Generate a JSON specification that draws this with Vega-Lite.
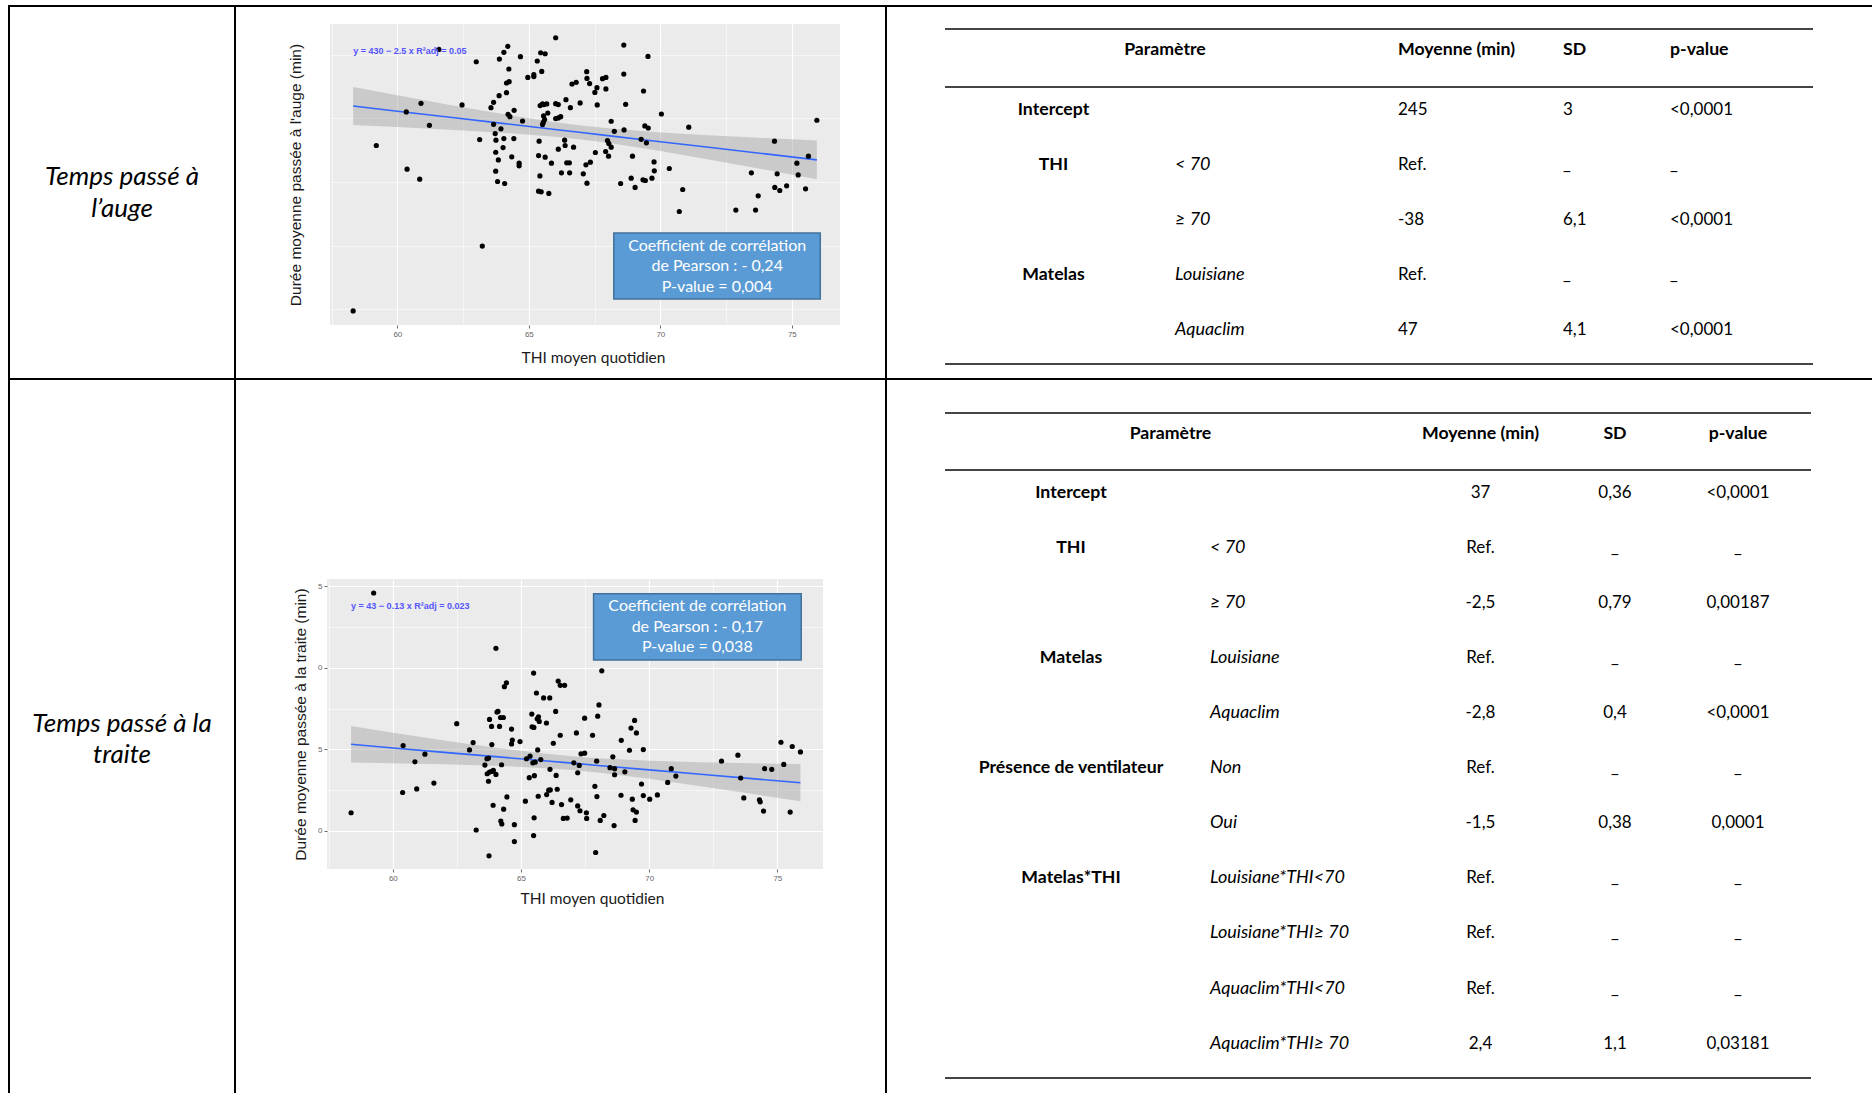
{
"$schema": "https://vega.github.io/schema/vega-lite/v6.json",
"padding": {"left": 8, "top": 5, "right": 0, "bottom": 0},
"background": "#ffffff",
"spacing": 0,
"bounds": "full",
"config": {"view": {"stroke": null}, "concat": {"spacing": 0}, "font": "Lato", "text": {"font": "Lato", "color": "#000000"}},
"datasets": {
"auge": [{"thi":58.32,"duree":123.6},{"thi":59.2,"duree":253.7},{"thi":60.34,"duree":280.1},{"thi":60.37,"duree":235.1},{"thi":60.9,"duree":286.9},{"thi":60.85,"duree":227.2},{"thi":61.22,"duree":269.6},{"thi":61.58,"duree":329.3},{"thi":62.46,"duree":285.6},{"thi":63.0,"duree":319.6},{"thi":63.13,"duree":258.4},{"thi":63.23,"duree":174.6},{"thi":63.56,"duree":283.5},{"thi":63.66,"duree":287.7},{"thi":63.66,"duree":270.4},{"thi":63.72,"duree":263.1},{"thi":63.75,"duree":257.9},{"thi":63.74,"duree":248.4},{"thi":63.74,"duree":233.5},{"thi":63.81,"duree":225.4},{"thi":63.84,"duree":242.4},{"thi":63.87,"duree":292.9},{"thi":63.88,"duree":321.7},{"thi":63.94,"duree":266.8},{"thi":64.02,"duree":252.1},{"thi":64.05,"duree":259.2},{"thi":64.08,"duree":223.8},{"thi":64.05,"duree":327.0},{"thi":64.2,"duree":331.7},{"thi":64.15,"duree":295.3},{"thi":64.15,"duree":302.9},{"thi":64.24,"duree":313.9},{"thi":64.25,"duree":303.9},{"thi":64.21,"duree":278.3},{"thi":64.28,"duree":276.4},{"thi":64.35,"duree":244.8},{"thi":64.43,"duree":259.2},{"thi":64.44,"duree":281.4},{"thi":64.63,"duree":239.8},{"thi":64.63,"duree":237.7},{"thi":64.68,"duree":323.6},{"thi":64.76,"duree":273.0},{"thi":64.96,"duree":307.3},{"thi":65.19,"duree":307.9},{"thi":65.19,"duree":309.4},{"thi":65.32,"duree":320.2},{"thi":65.37,"duree":245.8},{"thi":65.39,"duree":257.1},{"thi":65.42,"duree":229.8},{"thi":65.37,"duree":217.8},{"thi":65.47,"duree":217.3},{"thi":65.45,"duree":326.7},{"thi":65.49,"duree":312.0},{"thi":65.62,"duree":325.9},{"thi":65.43,"duree":285.1},{"thi":65.52,"duree":286.4},{"thi":65.57,"duree":285.9},{"thi":65.56,"duree":277.0},{"thi":65.62,"duree":244.5},{"thi":65.52,"duree":270.2},{"thi":65.55,"duree":272.0},{"thi":65.6,"duree":274.1},{"thi":65.68,"duree":286.4},{"thi":65.72,"duree":279.3},{"thi":65.76,"duree":216.0},{"thi":65.86,"duree":239.8},{"thi":66.02,"duree":338.5},{"thi":66.02,"duree":286.6},{"thi":66.12,"duree":285.9},{"thi":66.02,"duree":274.9},{"thi":66.12,"duree":275.4},{"thi":66.21,"duree":276.4},{"thi":66.12,"duree":250.8},{"thi":66.24,"duree":232.2},{"thi":66.36,"duree":257.9},{"thi":66.38,"duree":253.7},{"thi":66.41,"duree":289.8},{"thi":66.44,"duree":240.1},{"thi":66.54,"duree":240.1},{"thi":66.55,"duree":232.2},{"thi":66.58,"duree":283.5},{"thi":66.64,"duree":302.1},{"thi":66.7,"duree":252.4},{"thi":66.8,"duree":303.4},{"thi":66.95,"duree":287.2},{"thi":67.07,"duree":231.4},{"thi":67.17,"duree":238.5},{"thi":67.21,"duree":224.1},{"thi":67.2,"duree":311.8},{"thi":67.21,"duree":306.5},{"thi":67.31,"duree":302.4},{"thi":67.34,"duree":240.6},{"thi":67.51,"duree":295.5},{"thi":67.53,"duree":248.2},{"thi":67.59,"duree":299.2},{"thi":67.6,"duree":285.6},{"thi":67.8,"duree":306.3},{"thi":67.93,"duree":307.3},{"thi":67.93,"duree":298.2},{"thi":67.92,"duree":249.0},{"thi":67.99,"duree":257.6},{"thi":68.03,"duree":245.3},{"thi":68.04,"duree":255.2},{"thi":68.13,"duree":272.8},{"thi":68.13,"duree":252.4},{"thi":68.25,"duree":264.9},{"thi":68.49,"duree":223.8},{"thi":68.61,"duree":332.7},{"thi":68.61,"duree":309.9},{"thi":68.62,"duree":266.0},{"thi":68.68,"duree":286.1},{"thi":68.89,"duree":228.0},{"thi":68.94,"duree":245.3},{"thi":69.04,"duree":220.7},{"thi":69.27,"duree":258.6},{"thi":69.36,"duree":296.6},{"thi":69.34,"duree":226.7},{"thi":69.41,"duree":269.1},{"thi":69.43,"duree":226.2},{"thi":69.47,"duree":255.8},{"thi":69.53,"duree":323.8},{"thi":69.54,"duree":267.5},{"thi":69.68,"duree":228.0},{"thi":69.76,"duree":240.8},{"thi":69.77,"duree":233.8},{"thi":70.04,"duree":278.5},{"thi":70.34,"duree":235.6},{"thi":70.72,"duree":201.8},{"thi":70.85,"duree":219.1},{"thi":71.08,"duree":268.1},{"thi":72.87,"duree":202.9},{"thi":73.46,"duree":232.2},{"thi":73.62,"duree":202.9},{"thi":73.72,"duree":214.1},{"thi":74.34,"duree":257.1},{"thi":74.35,"duree":220.7},{"thi":74.44,"duree":231.4},{"thi":74.54,"duree":218.3},{"thi":74.8,"duree":222.0},{"thi":75.19,"duree":239.8},{"thi":75.24,"duree":230.6},{"thi":75.52,"duree":219.6},{"thi":75.63,"duree":245.3},{"thi":75.95,"duree":273.6}],
"auge_fit": [{"thi":58.32,"fit":284.8,"lo":269.8,"hi":299.8},{"thi":60,"fit":280.7,"lo":268.2,"hi":293.2},{"thi":62,"fit":275.9,"lo":266.2,"hi":285.6},{"thi":64,"fit":271.1,"lo":263.8,"hi":278.4},{"thi":66,"fit":266.3,"lo":260.6,"hi":272.0},{"thi":67,"fit":263.9,"lo":258.4,"hi":269.4},{"thi":68,"fit":261.5,"lo":255.8,"hi":267.2},{"thi":70,"fit":256.7,"lo":249.4,"hi":264.0},{"thi":72,"fit":251.9,"lo":242.2,"hi":261.6},{"thi":74,"fit":247.1,"lo":234.6,"hi":259.6},{"thi":75.95,"fit":242.4,"lo":227.2,"hi":257.7}],
"traite": [{"thi":58.37,"duree":31.12},{"thi":59.25,"duree":44.59},{"thi":60.4,"duree":35.24},{"thi":60.38,"duree":32.36},{"thi":60.86,"duree":34.24},{"thi":60.93,"duree":32.58},{"thi":61.25,"duree":34.71},{"thi":61.6,"duree":32.94},{"thi":62.49,"duree":36.58},{"thi":62.99,"duree":34.97},{"thi":63.13,"duree":35.42},{"thi":63.25,"duree":30.06},{"thi":63.59,"duree":34.04},{"thi":63.67,"duree":34.43},{"thi":63.73,"duree":34.47},{"thi":63.77,"duree":36.84},{"thi":63.73,"duree":33.05},{"thi":63.68,"duree":33.51},{"thi":63.77,"duree":33.61},{"thi":63.85,"duree":36.41},{"thi":63.86,"duree":35.3},{"thi":63.86,"duree":33.65},{"thi":63.92,"duree":33.72},{"thi":63.75,"duree":28.48},{"thi":63.91,"duree":31.58},{"thi":64.02,"duree":41.2},{"thi":64.02,"duree":33.47},{"thi":64.06,"duree":37.29},{"thi":64.1,"duree":37.33},{"thi":64.16,"duree":36.41},{"thi":64.2,"duree":36.96},{"thi":64.24,"duree":34.06},{"thi":64.31,"duree":36.96},{"thi":64.21,"duree":30.61},{"thi":64.25,"duree":30.43},{"thi":64.32,"duree":31.34},{"thi":64.35,"duree":38.85},{"thi":64.43,"duree":39.09},{"thi":64.45,"duree":32.09},{"thi":64.63,"duree":36.25},{"thi":64.63,"duree":35.34},{"thi":64.66,"duree":35.58},{"thi":64.74,"duree":30.39},{"thi":64.74,"duree":29.35},{"thi":64.96,"duree":35.48},{"thi":65.17,"duree":31.83},{"thi":65.21,"duree":34.43},{"thi":65.32,"duree":33.27},{"thi":65.35,"duree":34.59},{"thi":65.42,"duree":37.17},{"thi":65.43,"duree":36.39},{"thi":65.46,"duree":34.18},{"thi":65.49,"duree":39.68},{"thi":65.5,"duree":36.35},{"thi":65.52,"duree":33.39},{"thi":65.49,"duree":29.72},{"thi":65.51,"duree":30.81},{"thi":65.55,"duree":34.22},{"thi":65.6,"duree":38.46},{"thi":65.63,"duree":36.88},{"thi":65.65,"duree":34.97},{"thi":65.67,"duree":32.13},{"thi":65.68,"duree":37.0},{"thi":65.71,"duree":36.72},{"thi":65.77,"duree":34.38},{"thi":65.88,"duree":38.16},{"thi":65.99,"duree":36.62},{"thi":66.0,"duree":32.23},{"thi":66.08,"duree":32.5},{"thi":66.12,"duree":38.16},{"thi":66.13,"duree":33.78},{"thi":66.14,"duree":32.52},{"thi":66.21,"duree":31.75},{"thi":66.26,"duree":35.38},{"thi":66.35,"duree":37.33},{"thi":66.37,"duree":33.41},{"thi":66.41,"duree":32.56},{"thi":66.45,"duree":39.19},{"thi":66.53,"duree":38.93},{"thi":66.53,"duree":35.87},{"thi":66.58,"duree":31.62},{"thi":66.65,"duree":30.77},{"thi":66.7,"duree":38.93},{"thi":66.8,"duree":30.79},{"thi":66.94,"duree":31.91},{"thi":67.06,"duree":34.18},{"thi":67.16,"duree":36.01},{"thi":67.21,"duree":31.54},{"thi":67.21,"duree":33.57},{"thi":67.27,"duree":34.02},{"thi":67.3,"duree":31.24},{"thi":67.34,"duree":34.73},{"thi":67.48,"duree":34.77},{"thi":67.48,"duree":36.92},{"thi":67.55,"duree":31.12},{"thi":67.56,"duree":30.77},{"thi":67.79,"duree":35.87},{"thi":67.88,"duree":32.74},{"thi":67.91,"duree":28.68},{"thi":67.95,"duree":34.28},{"thi":67.96,"duree":32.11},{"thi":67.99,"duree":37.04},{"thi":68.04,"duree":37.73},{"thi":68.09,"duree":30.65},{"thi":68.15,"duree":39.82},{"thi":68.23,"duree":30.95},{"thi":68.47,"duree":33.88},{"thi":68.58,"duree":34.55},{"thi":68.65,"duree":33.82},{"thi":68.65,"duree":33.45},{"thi":68.63,"duree":30.33},{"thi":68.91,"duree":35.56},{"thi":68.9,"duree":32.19},{"thi":69.05,"duree":33.63},{"thi":69.23,"duree":34.95},{"thi":69.29,"duree":36.31},{"thi":69.34,"duree":31.95},{"thi":69.37,"duree":31.3},{"thi":69.43,"duree":36.78},{"thi":69.45,"duree":30.65},{"thi":69.5,"duree":36.01},{"thi":69.5,"duree":31.16},{"thi":69.7,"duree":32.88},{"thi":69.77,"duree":34.99},{"thi":69.77,"duree":32.17},{"thi":70.02,"duree":31.95},{"thi":70.32,"duree":32.21},{"thi":70.72,"duree":32.98},{"thi":70.86,"duree":33.82},{"thi":71.04,"duree":33.37},{"thi":72.82,"duree":34.28},{"thi":73.46,"duree":34.65},{"thi":73.57,"duree":33.25},{"thi":73.69,"duree":32.03},{"thi":74.3,"duree":31.91},{"thi":74.33,"duree":31.79},{"thi":74.46,"duree":31.22},{"thi":74.5,"duree":33.82},{"thi":74.78,"duree":33.78},{"thi":75.14,"duree":35.44},{"thi":75.25,"duree":34.08},{"thi":75.5,"duree":31.16},{"thi":75.58,"duree":35.18},{"thi":75.9,"duree":34.85}],
"traite_fit": [{"thi":58.37,"fit":35.32,"lo":34.2,"hi":36.44},{"thi":60,"fit":35.09,"lo":34.16,"hi":36.03},{"thi":62,"fit":34.82,"lo":34.09,"hi":35.55},{"thi":64,"fit":34.56,"lo":34.0,"hi":35.11},{"thi":66,"fit":34.29,"lo":33.85,"hi":34.73},{"thi":67,"fit":34.16,"lo":33.74,"hi":34.58},{"thi":68,"fit":34.02,"lo":33.58,"hi":34.46},{"thi":70,"fit":33.75,"lo":33.2,"hi":34.3},{"thi":72,"fit":33.48,"lo":32.75,"hi":34.21},{"thi":74,"fit":33.21,"lo":32.28,"hi":34.15},{"thi":75.9,"fit":32.96,"lo":31.82,"hi":34.1}],
"t1": [{"r":1,"g":"Intercept","l":"","m":"245","s":"3","p":"<0,0001"},{"r":2,"g":"THI","l":"< 70","m":"Ref.","s":"_","p":"_"},{"r":3,"g":"","l":"≥ 70","m":"-38","s":"6,1","p":"<0,0001"},{"r":4,"g":"Matelas","l":"Louisiane","m":"Ref.","s":"_","p":"_"},{"r":5,"g":"","l":"Aquaclim","m":"47","s":"4,1","p":"<0,0001"}],
"t2": [{"r":1,"g":"Intercept","l":"","m":"37","s":"0,36","p":"<0,0001"},{"r":2,"g":"THI","l":"< 70","m":"Ref.","s":"_","p":"_"},{"r":3,"g":"","l":"≥ 70","m":"-2,5","s":"0,79","p":"0,00187"},{"r":4,"g":"Matelas","l":"Louisiane","m":"Ref.","s":"_","p":"_"},{"r":5,"g":"","l":"Aquaclim","m":"-2,8","s":"0,4","p":"<0,0001"},{"r":6,"g":"Présence de ventilateur","l":"Non","m":"Ref.","s":"_","p":"_"},{"r":7,"g":"","l":"Oui","m":"-1,5","s":"0,38","p":"0,0001"},{"r":8,"g":"Matelas*THI","l":"Louisiane*THI<70","m":"Ref.","s":"_","p":"_"},{"r":9,"g":"","l":"Louisiane*THI≥ 70","m":"Ref.","s":"_","p":"_"},{"r":10,"g":"","l":"Aquaclim*THI<70","m":"Ref.","s":"_","p":"_"},{"r":11,"g":"","l":"Aquaclim*THI≥ 70","m":"2,4","s":"1,1","p":"0,03181"}]
},
"vconcat": [
{"width": 1864, "height": 2, "data": {"values": []}, "mark": "point", "view": {"fill": "#000000"}},
{"hconcat": [
  {"width": 2, "height": 371, "data": {"values": []}, "mark": "point", "view": {"fill": "#000000"}},
  {"width": 224, "height": 371, "data": {"values": [{"k": "a", "lab": "Temps passé à\nl’auge"}]}, "mark": {"type": "text", "fontSize": 26, "fontStyle": "italic", "lineBreak": "\n", "lineHeight": 32, "align": "center", "baseline": "middle"}, "encoding": {"y": {"field": "k", "type": "nominal", "axis": null, "bandPosition": 0.457, "scale": {"type": "band", "paddingInner": 0, "paddingOuter": 0}}, "text": {"field": "lab"}}},
  {"width": 2, "height": 371, "data": {"values": []}, "mark": "point", "view": {"fill": "#000000"}},
  {"vconcat": [
    {"width": 649, "height": 17, "data": {"values": []}, "mark": "point"},
    {"hconcat": [
      {"width": 94, "height": 354, "data": {"values": []}, "mark": "point"},
      {"width": 510, "height": 301, "view": {"fill": "#EBEBEB", "stroke": null},
       "layer": [
        {"data": {"name": "auge_fit"}, "mark": {"type": "area", "color": "#999999", "opacity": 0.4},
         "encoding": {
          "x": {"field": "thi", "type": "quantitative", "scale": {"domain": [57.44, 76.83], "nice": false, "zero": false},
                "axis": {"title": "THI moyen quotidien", "titleX": 263, "values": [57.5, 60, 62.5, 65, 67.5, 70, 72.5, 75], "domain": false, "grid": true, "gridColor": "#ffffff", "gridOpacity": 1, "gridWidth": {"condition": {"test": "datum.value % 5 === 0", "value": 1.1}, "value": 0.55}, "ticks": true, "tickSize": 3, "tickColor": "#444444", "tickWidth": 0.8, "tickOpacity": {"condition": {"test": "datum.value % 5 === 0", "value": 1}, "value": 0}, "labelExpr": "datum.value % 5 === 0 ? datum.label : ''", "labelOverlap": false, "labelFont": "Liberation Sans", "labelFontSize": 8, "labelColor": "#666666", "labelPadding": 2, "titleFont": "Lato", "titleFontSize": 15.5, "titleFontWeight": "normal", "titleColor": "#1a1a1a", "titlePadding": 12}},
          "y": {"field": "lo", "type": "quantitative", "scale": {"domain": [112.5, 349.3], "nice": false, "zero": false},
                "axis": {"title": "Durée moyenne passée à l'auge  (min)", "values": [125, 150, 175, 200, 225, 250, 275, 300, 325], "domain": false, "grid": true, "gridColor": "#ffffff", "gridOpacity": 1, "gridWidth": {"condition": {"test": "datum.value % 50 === 0", "value": 1.1}, "value": 0.55}, "ticks": true, "tickSize": 3, "tickColor": "#444444", "tickWidth": 0.8, "tickOpacity": {"condition": {"test": "datum.value % 50 === 0", "value": 1}, "value": 0}, "labelExpr": "datum.value % 50 === 0 ? datum.label : ''", "labelOverlap": false, "labelFont": "Liberation Sans", "labelFontSize": 8, "labelColor": "#666666", "labelPadding": 2, "titleFont": "Liberation Sans", "titleFontSize": 15.5, "titleFontWeight": "normal", "titleColor": "#1a1a1a", "titlePadding": 22}},
          "y2": {"field": "hi"}}},
        {"data": {"name": "auge_fit"}, "mark": {"type": "line", "color": "#3366FF", "strokeWidth": 1.6},
         "encoding": {"x": {"field": "thi", "type": "quantitative"}, "y": {"field": "fit", "type": "quantitative"}}},
        {"data": {"name": "auge"}, "mark": {"type": "circle", "color": "#000000", "opacity": 1, "size": 27},
         "encoding": {"x": {"field": "thi", "type": "quantitative"}, "y": {"field": "duree", "type": "quantitative"}}},
        {"data": {"values": [{"eq": "y = 430 − 2.5 x    R²adj = 0.05"}]}, "mark": {"type": "text", "align": "left", "baseline": "middle", "font": "Liberation Sans", "fontSize": 9, "fontWeight": "bold", "color": "#5555ff"},
         "encoding": {"x": {"datum": 58.32}, "y": {"datum": 327.7}, "text": {"field": "eq"}}},
        {"data": {"values": [{"k": 1}]}, "mark": {"type": "rect", "fill": "#5B9BD5", "stroke": "#41719C", "strokeWidth": 1.5},
         "encoding": {"x": {"datum": 68.23}, "x2": {"datum": 76.08}, "y": {"datum": 184.8}, "y2": {"datum": 133.0}}},
        {"data": {"values": [{"txt": "Coefficient de corrélation\nde Pearson : - 0,24\nP-value = 0,004"}]}, "mark": {"type": "text", "fontSize": 16, "color": "#ffffff", "lineBreak": "\n", "lineHeight": 20.5, "align": "center", "baseline": "middle"},
         "encoding": {"x": {"datum": 72.16}, "y": {"datum": 174.9}, "text": {"field": "txt"}}}
       ]},
      {"width": 45, "height": 354, "data": {"values": []}, "mark": "point"}
    ], "spacing": 0, "bounds": "flush"}
  ], "spacing": 0, "bounds": "full"},
  {"width": 2, "height": 371, "data": {"values": []}, "mark": "point", "view": {"fill": "#000000"}},
  {"vconcat": [
    {"width": 985, "height": 21, "data": {"values": []}, "mark": "point"},
    {"hconcat": [
      {"width": 58, "height": 337, "data": {"values": []}, "mark": "point"},
      {"vconcat": [
        {"width": 868, "height": 2, "data": {"values": []}, "mark": "point", "view": {"fill": "#454545"}},
        {"hconcat": [
          {"width": 440, "height": 56, "data": {"values": [{"r": "h", "t": "Paramètre"}]}, "mark": {"type": "text", "fontWeight": "bold", "fontSize": 17.7, "baseline": "middle", "align": "center"}, "encoding": {"y": {"field": "r", "type": "nominal", "axis": null, "bandPosition": 0.365, "scale": {"type": "band", "paddingInner": 0, "paddingOuter": 0}}, "text": {"field": "t"}}},
          {"width": 13, "height": 56, "data": {"values": []}, "mark": "point"},
          {"width": 165, "height": 56, "data": {"values": [{"r": "h", "t": "Moyenne (min)"}]}, "mark": {"type": "text", "fontWeight": "bold", "fontSize": 17.7, "baseline": "middle", "align": "left"}, "encoding": {"x": {"datum": 0, "type": "quantitative", "axis": null, "scale": {"domain": [0, 1]}}, "y": {"field": "r", "type": "nominal", "axis": null, "bandPosition": 0.365, "scale": {"type": "band", "paddingInner": 0, "paddingOuter": 0}}, "text": {"field": "t"}}},
          {"width": 107, "height": 56, "data": {"values": [{"r": "h", "t": "SD"}]}, "mark": {"type": "text", "fontWeight": "bold", "fontSize": 17.7, "baseline": "middle", "align": "left"}, "encoding": {"x": {"datum": 0, "type": "quantitative", "axis": null, "scale": {"domain": [0, 1]}}, "y": {"field": "r", "type": "nominal", "axis": null, "bandPosition": 0.365, "scale": {"type": "band", "paddingInner": 0, "paddingOuter": 0}}, "text": {"field": "t"}}},
          {"width": 143, "height": 56, "data": {"values": [{"r": "h", "t": "p-value"}]}, "mark": {"type": "text", "fontWeight": "bold", "fontSize": 17.7, "baseline": "middle", "align": "left"}, "encoding": {"x": {"datum": 0, "type": "quantitative", "axis": null, "scale": {"domain": [0, 1]}}, "y": {"field": "r", "type": "nominal", "axis": null, "bandPosition": 0.365, "scale": {"type": "band", "paddingInner": 0, "paddingOuter": 0}}, "text": {"field": "t"}}}
        ], "spacing": 0, "bounds": "flush"},
        {"width": 868, "height": 2, "data": {"values": []}, "mark": "point", "view": {"fill": "#454545"}},
        {"hconcat": [
          {"width": 217, "height": 275, "data": {"name": "t1"}, "mark": {"type": "text", "fontWeight": "bold", "fontSize": 17.7, "baseline": "middle", "align": "center"}, "encoding": {"y": {"field": "r", "type": "ordinal", "axis": null, "bandPosition": 0.4, "scale": {"type": "band", "paddingInner": 0, "paddingOuter": 0}}, "text": {"field": "g"}}},
          {"width": 13, "height": 275, "data": {"values": []}, "mark": "point"},
          {"width": 223, "height": 275, "data": {"name": "t1"}, "mark": {"type": "text", "fontStyle": "italic", "fontSize": 18, "baseline": "middle", "align": "left"}, "encoding": {"x": {"datum": 0, "type": "quantitative", "axis": null, "scale": {"domain": [0, 1]}}, "y": {"field": "r", "type": "ordinal", "axis": null, "bandPosition": 0.4, "scale": {"type": "band", "paddingInner": 0, "paddingOuter": 0}}, "text": {"field": "l"}}},
          {"width": 165, "height": 275, "data": {"name": "t1"}, "mark": {"type": "text", "fontSize": 17, "baseline": "middle", "align": "left"}, "encoding": {"x": {"datum": 0, "type": "quantitative", "axis": null, "scale": {"domain": [0, 1]}}, "y": {"field": "r", "type": "ordinal", "axis": null, "bandPosition": 0.4, "scale": {"type": "band", "paddingInner": 0, "paddingOuter": 0}}, "text": {"field": "m"}}},
          {"width": 107, "height": 275, "data": {"name": "t1"}, "mark": {"type": "text", "fontSize": 17, "baseline": "middle", "align": "left"}, "encoding": {"x": {"datum": 0, "type": "quantitative", "axis": null, "scale": {"domain": [0, 1]}}, "y": {"field": "r", "type": "ordinal", "axis": null, "bandPosition": 0.4, "scale": {"type": "band", "paddingInner": 0, "paddingOuter": 0}}, "text": {"field": "s"}}},
          {"width": 143, "height": 275, "data": {"name": "t1"}, "mark": {"type": "text", "fontSize": 17, "baseline": "middle", "align": "left"}, "encoding": {"x": {"datum": 0, "type": "quantitative", "axis": null, "scale": {"domain": [0, 1]}}, "y": {"field": "r", "type": "ordinal", "axis": null, "bandPosition": 0.4, "scale": {"type": "band", "paddingInner": 0, "paddingOuter": 0}}, "text": {"field": "p"}}}
        ], "spacing": 0, "bounds": "flush"},
        {"width": 868, "height": 2, "data": {"values": []}, "mark": "point", "view": {"fill": "#454545"}}
      ], "spacing": 0, "bounds": "full"},
      {"width": 59, "height": 337, "data": {"values": []}, "mark": "point"}
    ], "spacing": 0, "bounds": "full"},
    {"width": 985, "height": 13, "data": {"values": []}, "mark": "point"}
  ], "spacing": 0, "bounds": "full"}
], "spacing": 0, "bounds": "full"},
{"width": 1864, "height": 2, "data": {"values": []}, "mark": "point", "view": {"fill": "#000000"}},
{"hconcat": [
  {"width": 2, "height": 713, "data": {"values": []}, "mark": "point", "view": {"fill": "#000000"}},
  {"width": 224, "height": 713, "data": {"values": [{"k": "a", "lab": "Temps passé à la\ntraite"}]}, "mark": {"type": "text", "fontSize": 26, "fontStyle": "italic", "lineBreak": "\n", "lineHeight": 31, "align": "center", "baseline": "middle"}, "encoding": {"y": {"field": "k", "type": "nominal", "axis": null, "bandPosition": 0.482, "scale": {"type": "band", "paddingInner": 0, "paddingOuter": 0}}, "text": {"field": "lab"}}},
  {"width": 2, "height": 713, "data": {"values": []}, "mark": "point", "view": {"fill": "#000000"}},
  {"vconcat": [
    {"width": 649, "height": 199, "data": {"values": []}, "mark": "point"},
    {"hconcat": [
      {"width": 91, "height": 514, "data": {"values": []}, "mark": "point"},
      {"width": 496, "height": 290, "view": {"fill": "#EBEBEB", "stroke": null},
       "layer": [
        {"data": {"name": "traite_fit"}, "mark": {"type": "area", "color": "#999999", "opacity": 0.4},
         "encoding": {
          "x": {"field": "thi", "type": "quantitative", "scale": {"domain": [57.43, 76.78], "nice": false, "zero": false},
                "axis": {"title": "THI moyen quotidien", "titleX": 265, "values": [57.5, 60, 62.5, 65, 67.5, 70, 72.5, 75], "domain": false, "grid": true, "gridColor": "#ffffff", "gridOpacity": 1, "gridWidth": {"condition": {"test": "datum.value % 5 === 0", "value": 1.1}, "value": 0.55}, "ticks": true, "tickSize": 3, "tickColor": "#444444", "tickWidth": 0.8, "tickOpacity": {"condition": {"test": "datum.value % 5 === 0", "value": 1}, "value": 0}, "labelExpr": "datum.value % 5 === 0 ? datum.label : ''", "labelOverlap": false, "labelFont": "Liberation Sans", "labelFontSize": 8, "labelColor": "#666666", "labelPadding": 2, "titleFont": "Lato", "titleFontSize": 15.5, "titleFontWeight": "normal", "titleColor": "#1a1a1a", "titlePadding": 9}},
          "y": {"field": "lo", "type": "quantitative", "scale": {"domain": [27.67, 45.45], "nice": false, "zero": false},
                "axis": {"title": "Durée moyenne passée à la traite  (min)", "values": [30, 32.5, 35, 37.5, 40, 42.5, 45], "domain": false, "grid": true, "gridColor": "#ffffff", "gridOpacity": 1, "gridWidth": {"condition": {"test": "datum.value % 5 === 0", "value": 1.1}, "value": 0.55}, "ticks": true, "tickSize": 3, "tickColor": "#444444", "tickWidth": 0.8, "tickOpacity": {"condition": {"test": "datum.value % 5 === 0", "value": 1}, "value": 0}, "labelExpr": "datum.value % 5 === 0 ? slice(datum.label, -1) : ''", "labelOverlap": false, "labelFont": "Liberation Sans", "labelFontSize": 8, "labelColor": "#666666", "labelPadding": 2, "titleFont": "Liberation Sans", "titleFontSize": 15.5, "titleFontWeight": "normal", "titleColor": "#1a1a1a", "titlePadding": 9}},
          "y2": {"field": "hi"}}},
        {"data": {"name": "traite_fit"}, "mark": {"type": "line", "color": "#3366FF", "strokeWidth": 1.6},
         "encoding": {"x": {"field": "thi", "type": "quantitative"}, "y": {"field": "fit", "type": "quantitative"}}},
        {"data": {"name": "traite"}, "mark": {"type": "circle", "color": "#000000", "opacity": 1, "size": 27},
         "encoding": {"x": {"field": "thi", "type": "quantitative"}, "y": {"field": "duree", "type": "quantitative"}}},
        {"data": {"values": [{"eq": "y = 43 − 0.13 x    R²adj = 0.023"}]}, "mark": {"type": "text", "align": "left", "baseline": "middle", "font": "Liberation Sans", "fontSize": 9, "fontWeight": "bold", "color": "#5555ff"},
         "encoding": {"x": {"datum": 58.37}, "y": {"datum": 43.78}, "text": {"field": "eq"}}},
        {"data": {"values": [{"k": 1}]}, "mark": {"type": "rect", "fill": "#5B9BD5", "stroke": "#41719C", "strokeWidth": 1.5},
         "encoding": {"x": {"datum": 67.83}, "x2": {"datum": 75.93}, "y": {"datum": 44.55}, "y2": {"datum": 40.49}}},
        {"data": {"values": [{"txt": "Coefficient de corrélation\nde Pearson : - 0,17\nP-value = 0,038"}]}, "mark": {"type": "text", "fontSize": 16, "color": "#ffffff", "lineBreak": "\n", "lineHeight": 20.3, "align": "center", "baseline": "middle"},
         "encoding": {"x": {"datum": 71.88}, "y": {"datum": 43.78}, "text": {"field": "txt"}}}
       ]},
      {"width": 62, "height": 514, "data": {"values": []}, "mark": "point"}
    ], "spacing": 0, "bounds": "flush"}
  ], "spacing": 0, "bounds": "full"},
  {"width": 2, "height": 713, "data": {"values": []}, "mark": "point", "view": {"fill": "#000000"}},
  {"vconcat": [
    {"width": 985, "height": 32, "data": {"values": []}, "mark": "point"},
    {"hconcat": [
      {"width": 58, "height": 667, "data": {"values": []}, "mark": "point"},
      {"vconcat": [
        {"width": 866, "height": 2, "data": {"values": []}, "mark": "point", "view": {"fill": "#454545"}},
        {"hconcat": [
          {"width": 451, "height": 55, "data": {"values": [{"r": "h", "t": "Paramètre"}]}, "mark": {"type": "text", "fontWeight": "bold", "fontSize": 17.7, "baseline": "middle", "align": "center"}, "encoding": {"y": {"field": "r", "type": "nominal", "axis": null, "bandPosition": 0.37, "scale": {"type": "band", "paddingInner": 0, "paddingOuter": 0}}, "text": {"field": "t"}}},
          {"width": 169, "height": 55, "data": {"values": [{"r": "h", "t": "Moyenne (min)"}]}, "mark": {"type": "text", "fontWeight": "bold", "fontSize": 17.7, "baseline": "middle", "align": "center"}, "encoding": {"y": {"field": "r", "type": "nominal", "axis": null, "bandPosition": 0.37, "scale": {"type": "band", "paddingInner": 0, "paddingOuter": 0}}, "text": {"field": "t"}}},
          {"width": 100, "height": 55, "data": {"values": [{"r": "h", "t": "SD"}]}, "mark": {"type": "text", "fontWeight": "bold", "fontSize": 17.7, "baseline": "middle", "align": "center"}, "encoding": {"y": {"field": "r", "type": "nominal", "axis": null, "bandPosition": 0.37, "scale": {"type": "band", "paddingInner": 0, "paddingOuter": 0}}, "text": {"field": "t"}}},
          {"width": 146, "height": 55, "data": {"values": [{"r": "h", "t": "p-value"}]}, "mark": {"type": "text", "fontWeight": "bold", "fontSize": 17.7, "baseline": "middle", "align": "center"}, "encoding": {"y": {"field": "r", "type": "nominal", "axis": null, "bandPosition": 0.37, "scale": {"type": "band", "paddingInner": 0, "paddingOuter": 0}}, "text": {"field": "t"}}}
        ], "spacing": 0, "bounds": "flush"},
        {"width": 866, "height": 2, "data": {"values": []}, "mark": "point", "view": {"fill": "#454545"}},
        {"hconcat": [
          {"width": 252, "height": 606, "data": {"name": "t2"}, "mark": {"type": "text", "fontWeight": "bold", "fontSize": 17.7, "baseline": "middle", "align": "center"}, "encoding": {"y": {"field": "r", "type": "ordinal", "axis": null, "bandPosition": 0.394, "scale": {"type": "band", "paddingInner": 0, "paddingOuter": 0}}, "text": {"field": "g"}}},
          {"width": 13, "height": 606, "data": {"values": []}, "mark": "point"},
          {"width": 186, "height": 606, "data": {"name": "t2"}, "mark": {"type": "text", "fontStyle": "italic", "fontSize": 18, "baseline": "middle", "align": "left"}, "encoding": {"x": {"datum": 0, "type": "quantitative", "axis": null, "scale": {"domain": [0, 1]}}, "y": {"field": "r", "type": "ordinal", "axis": null, "bandPosition": 0.394, "scale": {"type": "band", "paddingInner": 0, "paddingOuter": 0}}, "text": {"field": "l"}}},
          {"width": 169, "height": 606, "data": {"name": "t2"}, "mark": {"type": "text", "fontSize": 17, "baseline": "middle", "align": "center"}, "encoding": {"y": {"field": "r", "type": "ordinal", "axis": null, "bandPosition": 0.394, "scale": {"type": "band", "paddingInner": 0, "paddingOuter": 0}}, "text": {"field": "m"}}},
          {"width": 100, "height": 606, "data": {"name": "t2"}, "mark": {"type": "text", "fontSize": 17, "baseline": "middle", "align": "center"}, "encoding": {"y": {"field": "r", "type": "ordinal", "axis": null, "bandPosition": 0.394, "scale": {"type": "band", "paddingInner": 0, "paddingOuter": 0}}, "text": {"field": "s"}}},
          {"width": 146, "height": 606, "data": {"name": "t2"}, "mark": {"type": "text", "fontSize": 17, "baseline": "middle", "align": "center"}, "encoding": {"y": {"field": "r", "type": "ordinal", "axis": null, "bandPosition": 0.394, "scale": {"type": "band", "paddingInner": 0, "paddingOuter": 0}}, "text": {"field": "p"}}}
        ], "spacing": 0, "bounds": "flush"},
        {"width": 866, "height": 2, "data": {"values": []}, "mark": "point", "view": {"fill": "#454545"}}
      ], "spacing": 0, "bounds": "full"},
      {"width": 61, "height": 667, "data": {"values": []}, "mark": "point"}
    ], "spacing": 0, "bounds": "full"},
    {"width": 985, "height": 14, "data": {"values": []}, "mark": "point"}
  ], "spacing": 0, "bounds": "full"}
], "spacing": 0, "bounds": "full"}
]
}
